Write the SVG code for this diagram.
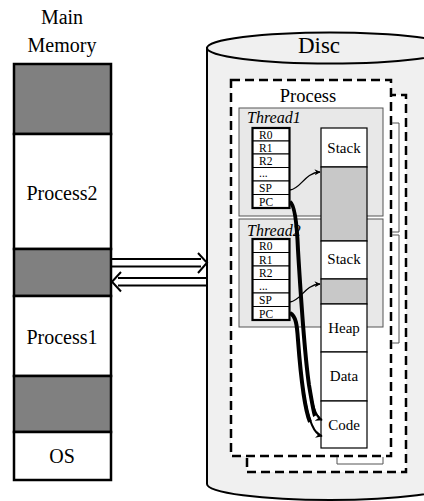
<svg xmlns="http://www.w3.org/2000/svg" width="424" height="501" viewBox="0 0 424 501" font-family="'Liberation Serif','Times New Roman',serif">
<defs>
<style>
text{font-family:"Liberation Serif","Times New Roman",serif;fill:#000}
.mem{stroke:#000;stroke-width:2.5}
.g{fill:#808080}
.w{fill:#fff}
.seg{stroke:#000;stroke-width:1.2}
.thr{fill:#e8e8e8;stroke:#555;stroke-width:1}
.reg{fill:#fff;stroke:#000;stroke-width:1}
.dash{fill:#fff;stroke:#000;stroke-width:2.5;stroke-dasharray:9 5}
.brk{fill:none;stroke:#555;stroke-width:1}
.big{font-size:20px;text-anchor:middle}
.mid{font-size:15px;text-anchor:middle}
.r{font-size:11.5px}
.conn{fill:none;stroke:#000}
.arrow2{fill:none;stroke:#000;stroke-width:2}
</style>
<marker id="ah" viewBox="0 0 10 10" refX="9" refY="5" markerWidth="7" markerHeight="7" markerUnits="userSpaceOnUse" orient="auto">
<path d="M0,0 L10,5 L0,10 L3,5 Z" fill="#000"/>
</marker>
<marker id="ahs" viewBox="0 0 10 10" refX="9" refY="5" markerWidth="6" markerHeight="6" markerUnits="userSpaceOnUse" orient="auto">
<path d="M0,0 L10,5 L0,10 L3,5 Z" fill="#000"/>
</marker>
</defs>

<g id="main-memory">
<text class="big" x="62" y="24" font-size="21">Main</text>
<text class="big" x="62" y="52" font-size="21">Memory</text>
<rect class="mem g" x="14" y="64" width="97" height="70"/>
<rect class="mem w" x="14" y="134" width="97" height="115"/>
<rect class="mem g" x="14" y="249" width="97" height="47"/>
<rect class="mem w" x="14" y="296" width="97" height="80"/>
<rect class="mem g" x="14" y="376" width="97" height="56"/>
<rect class="mem w" x="14" y="432" width="97" height="48"/>
<text class="big" x="62" y="200">Process2</text>
<text class="big" x="62" y="344">Process1</text>
<text class="big" x="62" y="463">OS</text>
</g>

<g id="disc">
<path d="M207,48 V484 A123,16 0 0 0 453,484 V48 Z" fill="#f0f0f0" stroke="#000" stroke-width="2"/>
<ellipse cx="330" cy="48" rx="123" ry="15.5" fill="#f0f0f0" stroke="#000" stroke-width="2"/>
<text x="319" y="53" font-size="23" text-anchor="middle">Disc</text>
</g>

<g id="process">
<rect class="dash" x="247" y="95" width="159" height="377"/>
<rect class="dash" x="231" y="80" width="160" height="376"/>
<text x="308" y="102" font-size="18.5" text-anchor="middle">Process</text>
<path class="brk" d="M392,123 H399 V232 H392"/>
<path class="brk" d="M392,235 H399 V343 H392"/>
<path class="brk" d="M337,457 V464 H383 V457"/>
</g>

<g id="thread1">
<rect class="thr" x="239" y="108" width="144" height="108"/>
<text x="247" y="123" font-size="16" font-style="italic">Thread1</text>
<rect class="reg" x="252.5" y="128" width="37" height="13"/>
<rect class="reg" x="252.5" y="141" width="37" height="13"/>
<rect class="reg" x="252.5" y="154" width="37" height="13.5"/>
<rect class="reg" x="252.5" y="167.5" width="37" height="13.5"/>
<rect class="reg" x="252.5" y="181" width="37" height="13.5"/>
<rect class="reg" x="252.5" y="194.5" width="37" height="13.5"/>
<rect x="252.5" y="128" width="37" height="80" fill="none" stroke="#000" stroke-width="2.2"/>
<text class="r" x="259" y="138.5">R0</text>
<text class="r" x="259" y="151.5">R1</text>
<text class="r" x="259" y="165">R2</text>
<text class="r" x="259" y="177">...</text>
<text class="r" x="259" y="192">SP</text>
<text class="r" x="259" y="205.5">PC</text>
</g>

<g id="thread2">
<rect class="thr" x="239" y="219" width="144" height="108"/>
<text x="247" y="236" font-size="16" font-style="italic">Thread2</text>
<rect class="reg" x="252.5" y="239" width="37" height="13.5"/>
<rect class="reg" x="252.5" y="252.5" width="37" height="13.5"/>
<rect class="reg" x="252.5" y="266" width="37" height="13.5"/>
<rect class="reg" x="252.5" y="279.5" width="37" height="13.5"/>
<rect class="reg" x="252.5" y="293" width="37" height="13.5"/>
<rect class="reg" x="252.5" y="306.5" width="37" height="13.5"/>
<rect x="252.5" y="239" width="37" height="81" fill="none" stroke="#000" stroke-width="2.2"/>
<text class="r" x="259" y="250">R0</text>
<text class="r" x="259" y="263.5">R1</text>
<text class="r" x="259" y="277">R2</text>
<text class="r" x="259" y="289.5">...</text>
<text class="r" x="259" y="304">SP</text>
<text class="r" x="259" y="317.5">PC</text>
</g>

<g id="address-space">
<rect class="seg w" x="321" y="128" width="46" height="39"/>
<rect class="seg" x="321" y="167" width="46" height="74" fill="#c8c8c8"/>
<rect class="seg w" x="321" y="241" width="46" height="38"/>
<rect class="seg" x="321" y="279" width="46" height="25" fill="#c8c8c8"/>
<rect class="seg w" x="321" y="304" width="46" height="48"/>
<rect class="seg w" x="321" y="352" width="46" height="49"/>
<rect class="seg w" x="321" y="401" width="46" height="47"/>
<text class="mid" x="344" y="153">Stack</text>
<text class="mid" x="344" y="264">Stack</text>
<text class="mid" x="344" y="333">Heap</text>
<text class="mid" x="344" y="381">Data</text>
<text class="mid" x="344" y="430">Code</text>
</g>

<g id="connectors">
<path class="arrow2" d="M112,259 H201 M112,266.5 H201 M198,253 L207,262.7 L198,273"/>
<path class="arrow2" d="M118,278 H207 M118,285.5 H207 M121,272 L112,281.7 L121,291.5"/>
<path class="conn" stroke-width="1.3" d="M290,190 C302,188 304,173 320,172" marker-end="url(#ahs)"/>
<path class="conn" stroke-width="1.3" d="M290,302 C302,300 304,285 320,284" marker-end="url(#ahs)"/>
<path class="conn" stroke="#fff" stroke-width="4" d="M290,202 C295,205 297,225 298,250 C301,300 304,350 309,385 C312,403 314,414 315,416"/>
<path class="conn" stroke-width="2" d="M290,202 C295,205 297,225 298,250 C301,300 304,350 309,385 C312,403 315,417 322,420" marker-end="url(#ah)"/>
<path class="conn" stroke="#fff" stroke-width="4" d="M290,313 C296,316 297,325 298,340 C301,380 305,410 310,422"/>
<path class="conn" stroke-width="2" d="M290,313 C296,316 297,325 298,340 C301,380 305,410 312,425 C315,432 318,435 322,436" marker-end="url(#ah)"/>
</g>
</svg>
